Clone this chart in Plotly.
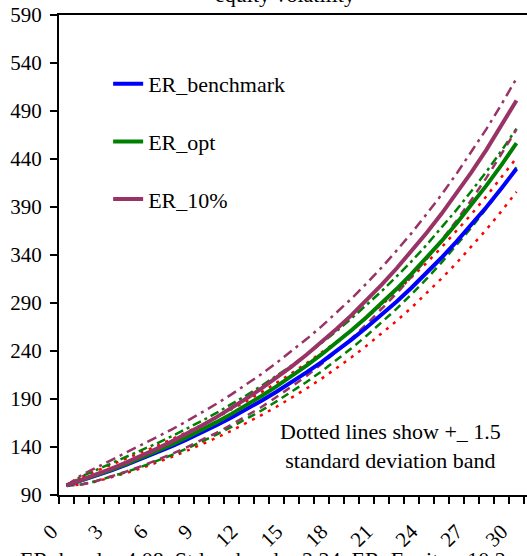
import plotly.graph_objects as go

# Horizon (years) and tick labels
years = list(range(31))
x_tick_vals = [0, 3, 6, 9, 12, 15, 18, 21, 24, 27, 30]
x_tick_text = ["0", "3", "6", "9", "12", "15", "18", "21", "24", "27", "30"]
y_tick_vals = [90, 140, 190, 240, 290, 340, 390, 440, 490, 540, 590]

# Expected wealth paths
er_benchmark = [100, 105.0, 110.2, 115.7, 121.5, 127.5, 133.9, 140.6, 147.6, 154.9,
                162.6, 170.7, 179.2, 188.2, 197.5, 207.4, 217.7, 228.5, 239.9, 251.9,
                264.4, 277.6, 291.4, 305.9, 321.1, 337.1, 353.9, 371.5, 390.0, 409.5, 429.9]
er_opt = [100, 105.2, 110.7, 116.4, 122.4, 128.8, 135.5, 142.5, 149.9, 157.7,
          165.9, 174.5, 183.6, 193.1, 203.1, 213.7, 224.8, 236.4, 248.7, 261.6,
          275.2, 289.5, 304.5, 320.3, 336.9, 354.4, 372.8, 392.2, 412.5, 433.9, 456.5]
er_10 = [100, 105.5, 111.3, 117.5, 124.0, 130.8, 138.0, 145.6, 153.7, 162.2,
         171.1, 180.5, 190.5, 201.0, 212.1, 223.8, 236.1, 249.2, 262.9, 277.4,
         292.7, 308.9, 325.9, 343.9, 362.9, 382.9, 404.0, 426.3, 449.8, 474.7, 500.9]

# +/- 1.5 standard deviation bands
bench_upper = [100, 108.7, 115.2, 121.5, 127.7, 134.1, 140.9, 147.9, 155.1, 162.8,
               170.7, 179.1, 187.8, 197.1, 206.6, 216.7, 227.3, 238.1, 249.7, 261.7,
               274.4, 287.9, 301.9, 316.6, 331.7, 347.9, 364.9, 382.6, 401.3, 420.6, 441.1]
bench_lower = [100, 100.8, 104.1, 108.2, 113.0, 117.9, 123.6, 129.6, 135.9, 142.5,
               149.6, 157.0, 164.9, 173.3, 181.9, 191.2, 200.9, 211.1, 221.9, 233.5,
               245.4, 257.9, 271.3, 285.1, 299.9, 315.5, 331.6, 348.8, 366.6, 385.7, 405.8]
opt_upper = [100, 109.4, 116.2, 122.9, 129.6, 136.5, 143.6, 151.1, 158.9, 167.0,
             175.5, 184.4, 193.9, 203.7, 214.1, 224.8, 236.3, 248.2, 260.6, 273.9,
             287.6, 302.2, 317.6, 333.4, 350.4, 368.2, 387.0, 406.7, 426.9, 448.6, 471.6]
opt_lower = [100, 101.0, 104.7, 109.1, 114.0, 119.4, 125.3, 131.5, 138.2, 145.4,
             153.0, 160.9, 169.3, 178.0, 187.5, 197.2, 207.7, 218.7, 230.5, 242.8,
             255.9, 269.5, 283.8, 299.2, 315.0, 332.1, 350.1, 368.7, 388.6, 409.2, 431.4]
p10_upper = [100, 110.8, 118.6, 126.4, 134.2, 141.9, 149.9, 158.1, 166.8, 175.7,
             185.0, 194.8, 205.2, 216.1, 227.6, 239.7, 252.4, 265.6, 279.7, 294.6,
             310.3, 326.8, 344.5, 362.8, 382.5, 402.8, 424.6, 447.6, 471.4, 497.0, 523.9]
p10_lower = [100, 100.8, 104.6, 109.3, 114.5, 120.1, 126.1, 132.6, 139.7, 147.1,
             154.8, 163.2, 172.2, 181.7, 192.0, 202.5, 213.9, 226.3, 239.2, 253.0,
             267.8, 283.3, 299.8, 317.4, 335.7, 355.3, 375.7, 397.7, 420.6, 445.3, 470.8]

BLUE = "#0000FF"
GREEN = "#008000"
PLUM = "#993366"
RED = "#FF0000"
FONT = "Times New Roman, Liberation Serif, Tinos, DejaVu Serif, serif"

fig = go.Figure()

bands = [
    (bench_upper, RED, "3px,6px"),
    (bench_lower, RED, "3px,6px"),
    (opt_upper, GREEN, "9px,4px,3px,4px"),
    (opt_lower, GREEN, "8px,5px"),
    (p10_upper, PLUM, "10px,5px,3px,5px"),
    (p10_lower, PLUM, "8px,6px"),
]
for vals, color, dash in bands:
    fig.add_trace(go.Scatter(
        x=years, y=vals, mode="lines", showlegend=False, hoverinfo="skip",
        line=dict(color=color, width=2.5, dash=dash),
    ))

mains = [
    ("ER_benchmark", er_benchmark, BLUE),
    ("ER_opt", er_opt, GREEN),
    ("ER_10%", er_10, PLUM),
]
for name, vals, color in mains:
    fig.add_trace(go.Scatter(
        x=years, y=vals, mode="lines", name=name, legendgroup=name,
        line=dict(color=color, width=4),
    ))

fig.update_layout(
    width=527, height=556,
    margin=dict(l=59, r=0, t=15, b=61),
    paper_bgcolor="white", plot_bgcolor="white",
    font=dict(family=FONT, size=21, color="black"),
    showlegend=True,
    legend=dict(
        x=0.105, y=0.9, xanchor="left", yanchor="top",
        bgcolor="rgba(0,0,0,0)", font=dict(family=FONT, size=22),
        traceorder="grouped", tracegroupgap=26,
    ),
    xaxis=dict(
        range=[-0.5, 30.7], showgrid=False, zeroline=False,
        showline=True, linecolor="black", linewidth=2, mirror=True,
        tickmode="array", tickvals=x_tick_vals, ticktext=x_tick_text,
        ticks="", tickangle=-45, ticklabelstandoff=14, ticklabelshift=-15,
        tickfont=dict(family=FONT, size=21),
        minor=dict(tick0=-0.5, dtick=1, ticks="outside", ticklen=7,
                   tickwidth=1.5, tickcolor="black"),
    ),
    yaxis=dict(
        range=[90, 590], showgrid=False, zeroline=False,
        showline=True, linecolor="black", linewidth=2,
        tickmode="array", tickvals=y_tick_vals,
        ticks="outside", ticklen=7, tickwidth=1.5, tickcolor="black",
        ticklabelstandoff=4, tickfont=dict(family=FONT, size=21),
    ),
)

fig.add_annotation(
    text="Dotted lines show +_ 1.5<br>standard deviation band",
    xref="paper", yref="paper", x=(390 - 59) / 468, y=(495 - 446) / 480,
    xanchor="center", yanchor="middle", showarrow=False,
    font=dict(family=FONT, size=22), align="center",
)
fig.add_annotation(
    text="equity volatility",
    xref="paper", yref="paper", x=(285 - 59) / 468, y=1.012,
    xanchor="center", yanchor="bottom", showarrow=False,
    font=dict(family=FONT, size=22),
)
fig.add_annotation(
    text="ER_band = 4.08, Stdev_band = 2.24, ER_Equity= 10.2",
    xref="paper", yref="paper", x=(18 - 59) / 468, y=-0.105,
    xanchor="left", yanchor="top", showarrow=False,
    font=dict(family=FONT, size=22),
)

fig.write_html("out.html")
